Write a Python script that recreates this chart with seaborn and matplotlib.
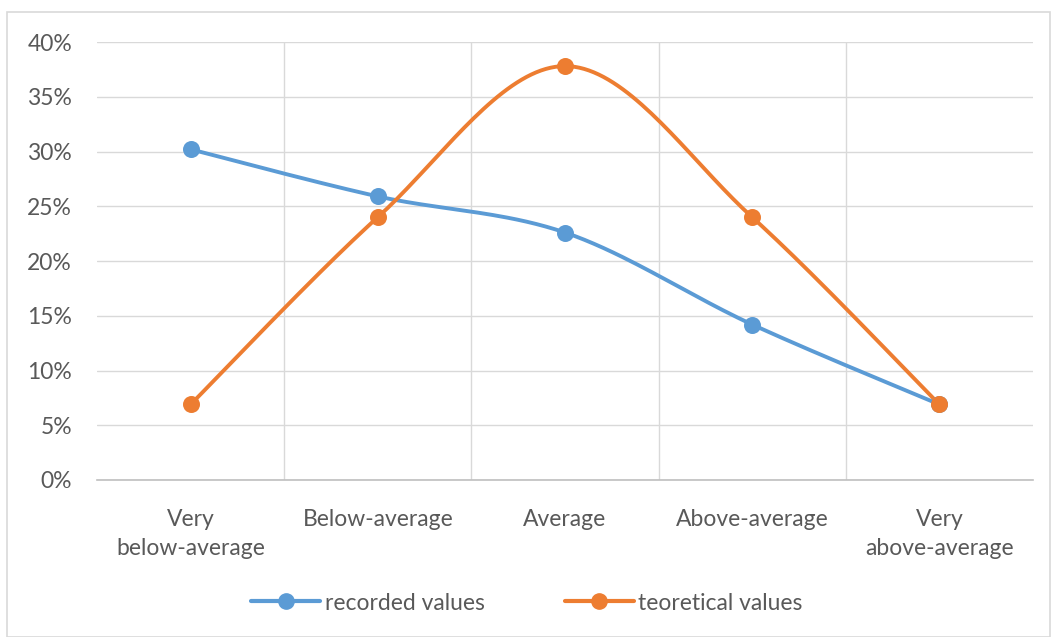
import numpy as np
import pandas as pd
import matplotlib
matplotlib.use("Agg")
import matplotlib.pyplot as plt
import seaborn as sns
from matplotlib.patches import Rectangle
from matplotlib.lines import Line2D
from matplotlib.ticker import PercentFormatter, MultipleLocator

categories = ["Very\nbelow-average", "Below-average", "Average", "Above-average", "Very\nabove-average"]
recorded_values = [30.2, 25.9, 22.6, 14.2, 6.9]
teoretical_values = [6.9, 24.0, 37.8, 24.0, 6.9]
series_names = ["recorded values", "teoretical values"]
series_colors = ["#5B9BD5", "#ED7D31"]

sns.set_theme(style="white")
plt.rcParams["font.family"] = ["Lato", "DejaVu Sans"]


def smooth_curve(y, steps=40):
    """Office-style smoothed line: cubic Bezier segments with Catmull-Rom control points."""
    x = np.arange(len(y), dtype=float)
    y = np.asarray(y, dtype=float)
    pts = np.column_stack([x, y])
    out = []
    n = len(pts)
    t = np.linspace(0, 1, steps)[:, None]
    for i in range(n - 1):
        p0 = pts[max(i - 1, 0)]
        p1 = pts[i]
        p2 = pts[i + 1]
        p3 = pts[min(i + 2, n - 1)]
        c1 = p1 + (p2 - p0) / 6.0
        c2 = p2 - (p3 - p1) / 6.0
        seg = ((1 - t) ** 3) * p1 + 3 * ((1 - t) ** 2) * t * c1 + 3 * (1 - t) * t ** 2 * c2 + t ** 3 * p2
        out.append(seg if i == 0 else seg[1:])
    out = np.vstack(out)
    return out[:, 0], out[:, 1]


fig = plt.figure(figsize=(10.55, 6.37), dpi=100)
fig.patch.set_facecolor("white")
fig.patches.append(Rectangle((7 / 1055, 0.0), 1043 / 1055, 1 - 12 / 637,
                             transform=fig.transFigure, fill=False,
                             edgecolor="#d9d9d9", linewidth=1.2))

ax = fig.add_axes([97 / 1055, 1 - 480 / 637, 936 / 1055, 438 / 637])

for name, vals, col in zip(series_names, [recorded_values, teoretical_values], series_colors):
    sx, sy = smooth_curve(vals)
    sns.lineplot(x=sx, y=sy, ax=ax, color=col, linewidth=2.8, sort=False,
                 estimator=None, zorder=3)
    sns.scatterplot(x=np.arange(len(vals)), y=vals, ax=ax, color=col, s=150,
                    edgecolor=col, linewidth=0, zorder=4)

ax.set_xlim(-0.5, len(categories) - 0.5)
ax.set_ylim(0, 40)
ax.yaxis.set_major_locator(MultipleLocator(5))
ax.yaxis.set_major_formatter(PercentFormatter(decimals=0))
ax.set_xticks(range(len(categories)))
ax.set_xticklabels(categories, linespacing=1.45)

# vertical gridlines on category boundaries
for b in np.arange(0.5, len(categories) - 0.5, 1.0):
    ax.axvline(b, color="#d9d9d9", linewidth=1.0, zorder=0)
ax.grid(axis="y", color="#d9d9d9", linewidth=1.0, zorder=0)
ax.set_axisbelow(True)

for side in ["left", "top", "right"]:
    ax.spines[side].set_visible(False)
ax.spines["bottom"].set_color("#bfbfbf")
ax.spines["bottom"].set_linewidth(1.2)

ax.tick_params(axis="both", length=0, labelsize=16.5, labelcolor="#595959")
ax.tick_params(axis="x", pad=21)
ax.tick_params(axis="y", pad=18)

handles = [Line2D([0], [0], color=c, linewidth=3.0, marker="o", markersize=11)
           for c in series_colors]
fig.legend(handles, series_names, loc="center", bbox_to_anchor=(527 / 1055, 1 - 603 / 637),
           ncol=2, frameon=False, fontsize=16.5, labelcolor="#595959",
           handlelength=3.0, handletextpad=0.2, columnspacing=3.5)

fig.savefig("out.png", dpi=100)
